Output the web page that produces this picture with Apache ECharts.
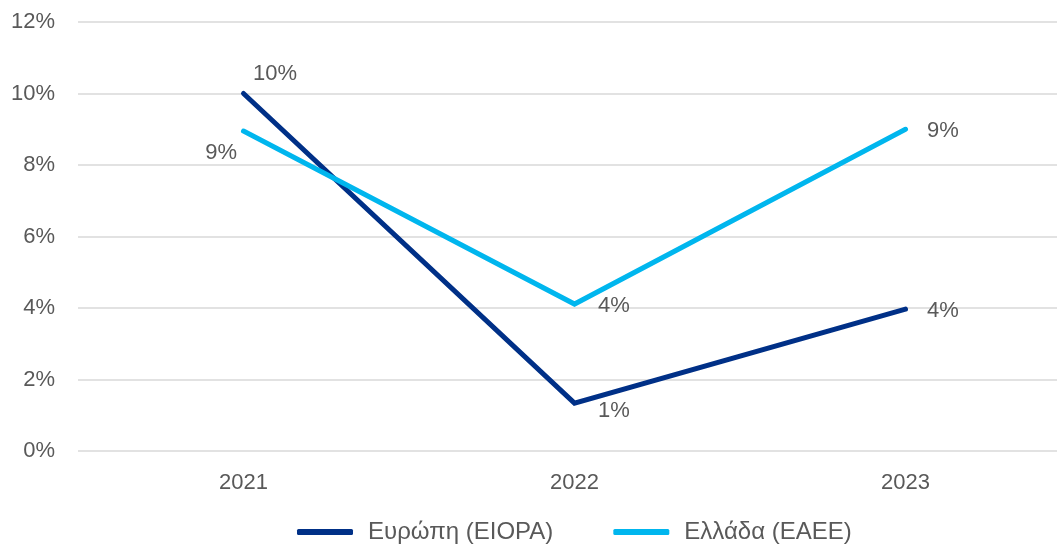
<!DOCTYPE html>
<html>
<head>
<meta charset="utf-8">
<script src="https://cdn.jsdelivr.net/npm/echarts@6/dist/echarts.min.js"></script>
<style>
  html, body { margin: 0; padding: 0; background: #ffffff; overflow: hidden; }
  /* The plot area runs slightly past the right edge of the window */
  #chart { width: 1071px; height: 546px; }
</style>
</head>
<body>
<div id="chart"></div>
<script>
// Years on the category axis
const years = ['2021', '2022', '2023'];
// Percent values per series
const europeValues = [10.0, 1.34, 3.97];
const greeceValues = [8.95, 4.11, 9.0];
const seriesNames = ['Ευρώπη (EIOPA)', 'Ελλάδα (ΕΑΕΕ)'];
// Value axis range and step (percent)
const yMin = 0, yMax = 12, yStep = 2;

const textColor = '#595959';
const fontFamily = '"Liberation Sans", Arial, Helvetica, sans-serif';
const fontSize = 22;

// Label placement per point: [position, distance, offset]
const europeLabelPlacement = [
  ['right', 9, [0, -20]],
  ['right', 23, [0, 8]],
  ['right', 21, [0, 2]]
];
const greeceLabelPlacement = [
  ['left', 6, [0, 22]],
  ['right', 23, [0, 2]],
  ['right', 21, [0, 2]]
];

function buildData(values, placement) {
  return values.map((v, i) => ({
    value: v,
    label: {
      position: placement[i][0],
      distance: placement[i][1],
      offset: placement[i][2]
    }
  }));
}

function lineSeries(name, values, placement, color) {
  return {
    name: name,
    type: 'line',
    data: buildData(values, placement),
    symbol: 'circle',
    symbolSize: 1,
    showSymbol: true,
    itemStyle: { color: color },
    lineStyle: { color: color, width: 5, cap: 'round', join: 'miter' },
    label: {
      show: true,
      color: textColor,
      fontSize: fontSize,
      fontFamily: fontFamily,
      formatter: p => Math.round(p.value) + '%'
    },
    emphasis: { disabled: true },
    animation: false
  };
}

const chart = echarts.init(document.getElementById('chart'), null, { renderer: 'canvas' });
chart.setOption({
  backgroundColor: '#ffffff',
  animation: false,
  grid: { left: 78, top: 22, right: 0, bottom: 95, containLabel: false },
  xAxis: {
    type: 'category',
    data: years,
    boundaryGap: true,
    axisLine: { show: false },
    axisTick: { show: false },
    axisLabel: { color: textColor, fontSize: fontSize, fontFamily: fontFamily, margin: 21 }
  },
  yAxis: {
    type: 'value',
    min: yMin,
    max: yMax,
    interval: yStep,
    axisLine: { show: false },
    axisTick: { show: false },
    splitLine: { lineStyle: { color: '#d9d9d9', width: 1.5 } },
    axisLabel: {
      color: textColor,
      fontSize: fontSize,
      fontFamily: fontFamily,
      margin: 23,
      formatter: v => v + '%'
    }
  },
  legend: {
    left: 297,
    top: 520,
    padding: 0,
    itemWidth: 56,
    itemHeight: 6,
    itemGap: 60,
    icon: 'roundRect',
    textStyle: { color: textColor, fontSize: 24, fontFamily: fontFamily, padding: [0, 0, 0, 10] },
    data: seriesNames
  },
  series: [
    lineSeries(seriesNames[0], europeValues, europeLabelPlacement, '#003087'),
    lineSeries(seriesNames[1], greeceValues, greeceLabelPlacement, '#00B6EE')
  ]
});
</script>
</body>
</html>
